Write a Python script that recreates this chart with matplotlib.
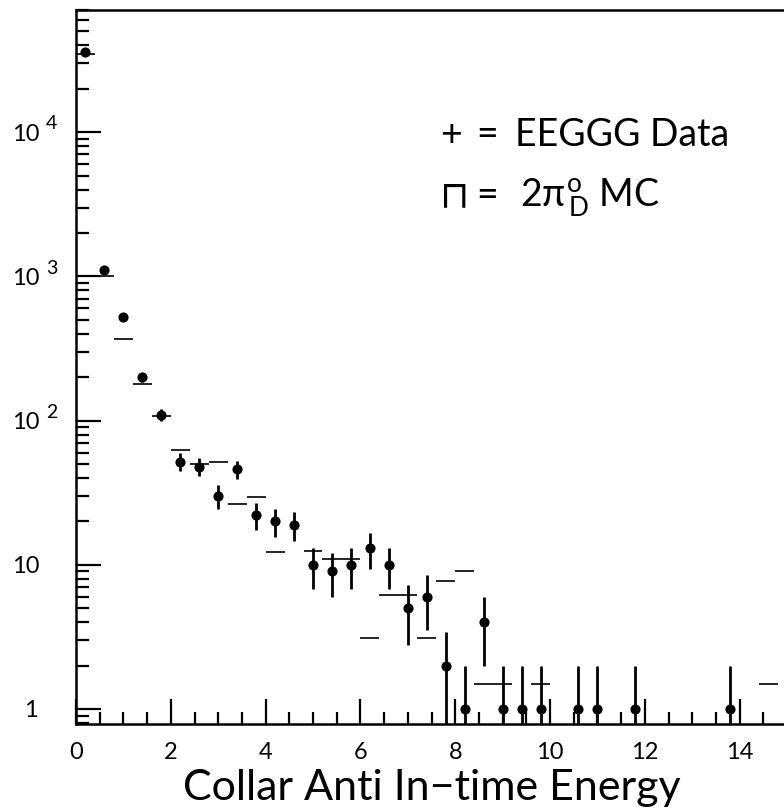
import numpy as np
import matplotlib
matplotlib.use("Agg")
import matplotlib.pyplot as plt
import matplotlib.transforms as mtransforms
from matplotlib.ticker import MultipleLocator, LogLocator, NullFormatter

# EEGGG data: bin centres (width 0.4) and event counts
data_x = [0.2, 0.6, 1.0, 1.4, 1.8, 2.2, 2.6, 3.0, 3.4, 3.8, 4.2, 4.6,
          5.0, 5.4, 5.8, 6.2, 6.6, 7.0, 7.4, 7.8, 8.2, 8.6, 9.0, 9.4,
          9.8, 10.6, 11.0, 11.8, 13.8]
data_counts = [36000, 1100, 520, 200, 110, 52, 48, 30, 46, 22, 20, 19,
               10, 9, 10, 13, 10, 5, 6, 2, 1, 4, 1, 1,
               1, 1, 1, 1, 1]

# 2 pi0_D Monte Carlo: bin lower edges and normalised contents
mc_lo = [0.0, 0.4, 0.8, 1.2, 1.6, 2.0, 2.4, 2.8, 3.2, 3.6, 4.0, 4.8,
         5.2, 5.6, 6.0, 6.4, 6.8, 7.2, 7.6, 8.0, 8.4, 8.8, 9.6, 14.4]
mc_val = [35000, 1000, 370, 180, 107, 63, 50, 52, 26.5, 29.5, 12.3, 12.5,
          11, 11, 3.1, 6.2, 6.2, 3.1, 7.7, 9.1, 1.5, 1.5, 1.5, 1.5]
bin_width = 0.4

x_major = [0, 2, 4, 6, 8, 10, 12, 14]
y_major = [1, 10, 100, 1000, 10000]
y_exponent = ["", "", "2", "3", "4"]

plt.rcParams["font.family"] = ["Lato", "DejaVu Sans"]
plt.rcParams["mathtext.fontset"] = "custom"
plt.rcParams["mathtext.rm"] = "Lato"
plt.rcParams["mathtext.it"] = "Lato"

W, H = 784, 810
fig = plt.figure(figsize=(W / 100, H / 100), dpi=100)
left, right, bottom, top = 76, 787, 724, 10
ax = fig.add_axes([left / W, 1 - bottom / H, (right - left) / W, (bottom - top) / H])

ax.set_yscale("log", nonpositive="clip")
ax.set_xlim(0, 15)
ax.set_ylim(0.787, 70300)

# Monte Carlo histogram as horizontal bin segments
mc_lo_a = np.array(mc_lo)
ax.hlines(mc_val, mc_lo_a, mc_lo_a + bin_width, colors="black", linewidth=1.2)

# data with Poisson error bars
counts = np.array(data_counts, dtype=float)
err = np.sqrt(counts)
ax.errorbar(data_x, counts, yerr=err, fmt="o", color="black",
            markersize=6.3, elinewidth=2.0, capsize=0, zorder=3)

# axes styling
for side in ["left", "bottom", "top", "right"]:
    ax.spines[side].set_linewidth(1.8)

ax.xaxis.set_major_locator(MultipleLocator(2))
ax.xaxis.set_minor_locator(MultipleLocator(0.5))
ax.set_xticks(x_major)
ax.set_xticklabels([str(v) for v in x_major])
ax.set_yticks(y_major)
ax.set_yticklabels([])
ax.yaxis.set_minor_locator(LogLocator(base=10, subs=np.arange(2, 10)))
ax.yaxis.set_minor_formatter(NullFormatter())

ax.tick_params(axis="both", which="both", direction="in", top=False, right=False)
ax.tick_params(axis="both", which="major", length=18, width=1.6, labelsize=17)
ax.tick_params(axis="both", which="minor", length=9, width=1.6)
ax.tick_params(axis="x", which="major", pad=13)

# y labels: "10" with a raised exponent
ylab_tr = ax.get_yaxis_transform()
def px_to_axx(px):
    return (px - left) / (right - left)

for val, ex in zip(y_major, y_exponent):
    if val == 1:
        ax.text(px_to_axx(31), val, "1", transform=ylab_tr, fontsize=17,
                ha="center", va="center_baseline", clip_on=False)
        continue
    ax.text(px_to_axx(12), val, "10", transform=ylab_tr, fontsize=17,
            ha="left", va="center_baseline", clip_on=False)
    if ex:
        raised = mtransforms.offset_copy(ylab_tr, fig=fig, x=0, y=7, units="points")
        ax.text(px_to_axx(46), val, ex, transform=raised, fontsize=14,
                ha="left", va="center_baseline", clip_on=False)

ax.set_xlabel("Collar Anti In\u2212time Energy", fontsize=31, labelpad=4)

# key
def axfrac(px, py):
    return px_to_axx(px), (bottom - py) / (bottom - top)

kx = 440
ax.text(*axfrac(kx, 146), "+", transform=ax.transAxes, fontsize=27,
        va="baseline", ha="left")
ax.text(*axfrac(kx + 36, 146), "=", transform=ax.transAxes, fontsize=27,
        va="baseline", ha="left")
ax.text(*axfrac(kx + 75, 146), "EEGGG Data", transform=ax.transAxes,
        fontsize=27, va="baseline", ha="left")
ax.text(*axfrac(kx, 207), "\u2293", transform=ax.transAxes, fontsize=27,
        va="baseline", ha="left", family="DejaVu Sans")
ax.text(*axfrac(kx + 36, 207), "=", transform=ax.transAxes, fontsize=27,
        va="baseline", ha="left")
ax.text(*axfrac(kx + 80, 207), "2$\\pi^{\\mathrm{o}}_{\\,\\mathrm{D}}$ MC",
        transform=ax.transAxes, fontsize=27, va="baseline", ha="left")

fig.savefig("out.png", dpi=100)
